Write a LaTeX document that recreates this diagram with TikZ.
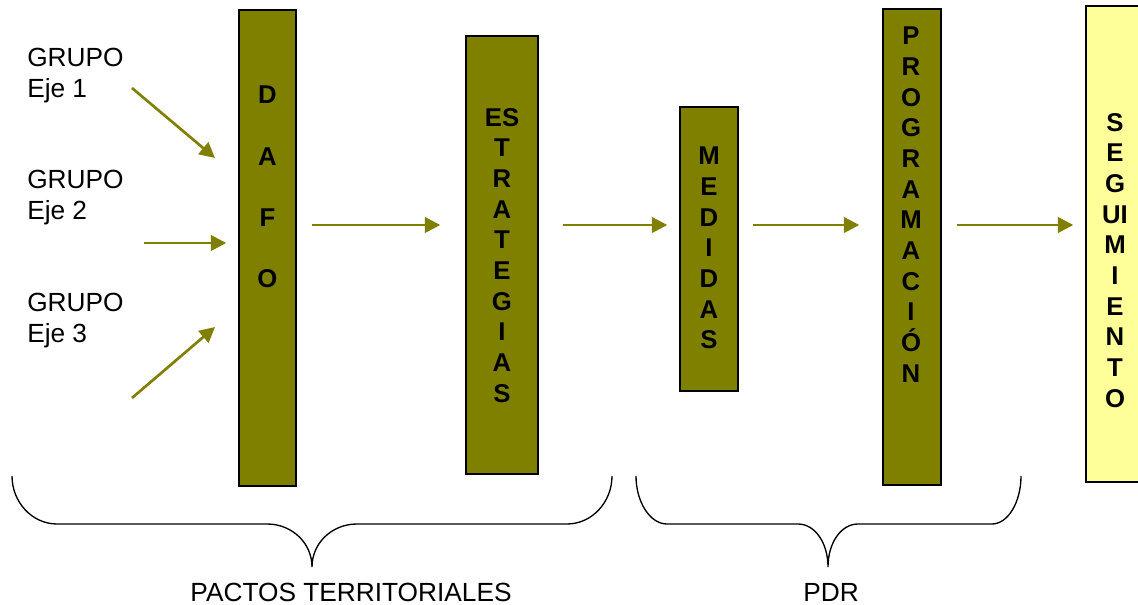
\documentclass[tikz,border=0pt]{standalone}
\usepackage{fontspec}
\setmainfont{Liberation Sans}
\usetikzlibrary{arrows.meta}
\definecolor{olivebox}{RGB}{128,128,0}
\definecolor{paleyellow}{RGB}{255,255,153}
\begin{document}
\begin{tikzpicture}[x=0.75pt,y=-0.75pt,
  bar/.style={draw=black, line width=1.05pt, fill=olivebox, inner sep=0pt},
  ybar/.style={draw=black, line width=1.05pt, fill=paleyellow, inner sep=0pt},
  stack/.style={font=\bfseries\fontsize{19.3pt}{23pt}\selectfont, align=center, inner sep=0pt, anchor=north},
  lbl/.style={font=\fontsize{19.7pt}{23pt}\selectfont, align=left, inner sep=0pt},
  arr/.style={draw=olivebox, line width=2pt, -{Triangle[length=11.5pt,width=11.5pt]}},
  bracepath/.style={draw=black, line width=1pt}]
\useasboundingbox (0,0) rectangle (1138,605);

% boxes
\node[bar, minimum width=42.75pt, minimum height=357pt] (dafo) at (267.5,248) {};
\node[bar, minimum width=54pt, minimum height=328.5pt] (estr) at (502,255) {};
\node[bar, minimum width=43.5pt, minimum height=213pt] (med) at (709,249) {};
\node[bar, minimum width=43.5pt, minimum height=357pt] (prog) at (912,247) {};
\node[ybar, minimum width=48pt, minimum height=357pt] (seg) at (1118,244) {};

% box texts
\node[stack] (dafotxt) at (267.5,86) {D\\[23pt]A\\[23pt]F\\[23pt]O};
\node[stack] (estrtxt) at (502,108) {ES\\T\\R\\A\\T\\E\\G\\I\\A\\S};
\node[stack] (medtxt) at (709,147) {M\\E\\D\\I\\D\\A\\S};
\node[stack] (progtxt) at (911,27) {P\\R\\O\\G\\R\\A\\M\\A\\C\\I\\Ó\\N};
\node[stack] (segtxt) at (1115,113) {S\\E\\G\\UI\\M\\I\\E\\N\\T\\O};

% group labels
\node[lbl, anchor=north west] (g1) at (27,48) {GRUPO\\Eje 1};
\node[lbl, anchor=north west] (g2) at (27,170) {GRUPO\\Eje 2};
\node[lbl, anchor=north west] (g3) at (27,293) {GRUPO\\Eje 3};

% input arrows
\coordinate (g1s) at (132,88);
\coordinate (g1t) at (215,158);
\coordinate (g2s) at (144,243);
\coordinate (g3s) at (132,398);
\coordinate (g3t) at (215,327);
\draw[arr] (g1s) -- (g1t);
\draw[arr, shorten >=9pt] (g2s) -- (dafo.west |- g2s);
\draw[arr] (g3s) -- (g3t);

% flow arrows
\coordinate (flow) at (0,225);
\draw[arr, shorten <=11.25pt, shorten >=18.75pt] (dafo.east |- flow) -- (estr.west |- flow);
\draw[arr, shorten <=18pt, shorten >=9pt] (estr.east |- flow) -- (med.west |- flow);
\draw[arr, shorten <=10.5pt, shorten >=17.25pt] (med.east |- flow) -- (prog.west |- flow);
\draw[arr, shorten <=11.25pt, shorten >=9pt] (prog.east |- flow) -- (seg.west |- flow);

% braces
\draw[bracepath] (12,476) .. controls (12,502) and (32,524) .. (57,524) -- (267,524)
  .. controls (292,524) and (312,543) .. (312,567)
  .. controls (312,543) and (332,524) .. (357,524) -- (567,524)
  .. controls (592,524) and (612,502) .. (612,476);
\draw[bracepath] (636,476) .. controls (636,502) and (650,524) .. (667,524) -- (798,524)
  .. controls (815,524) and (828,543) .. (828,567)
  .. controls (828,543) and (841,524) .. (858,524) -- (992,524)
  .. controls (1008,524) and (1021,502) .. (1021,476);

% bottom labels
\node[lbl, anchor=base] (pactos) at (351,601) {PACTOS TERRITORIALES};
\node[lbl, anchor=base] (pdr) at (831,601) {PDR};
\end{tikzpicture}
\end{document}
